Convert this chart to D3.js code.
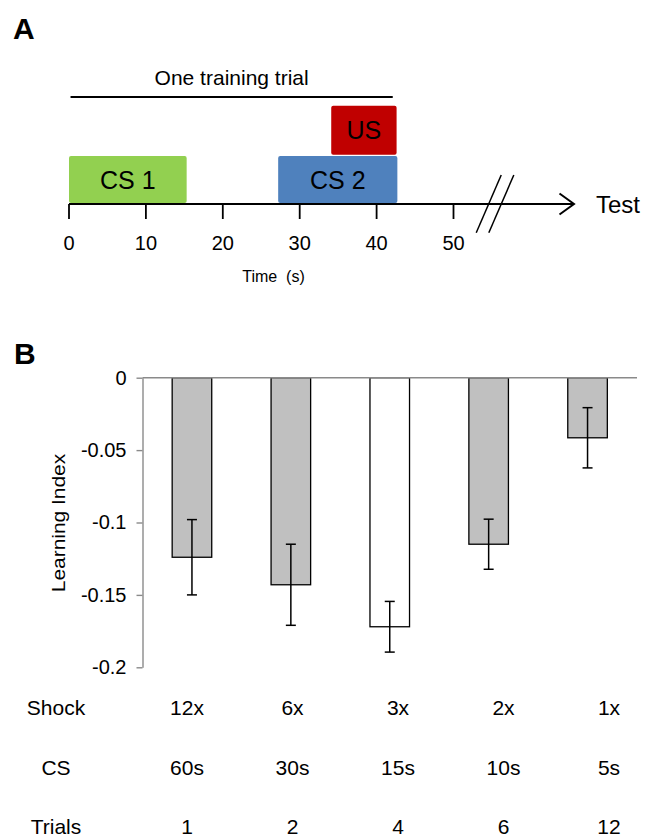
<!DOCTYPE html>
<html>
<head>
<meta charset="utf-8">
<script src="https://cdn.jsdelivr.net/npm/d3@7"></script>
<style>
  html, body { margin: 0; padding: 0; background: #fff; }
  svg { display: block; font-family: "Liberation Sans", Arial, sans-serif; }
</style>
</head>
<body>
<svg id="chart" width="645" height="837"></svg>
<script>
// ---------------- Data ----------------
// Panel A: timeline of one training trial (seconds)
const timeTicks = [0, 10, 20, 30, 40, 50];
const stimNames = ["CS 1", "CS 2", "US"];
const stimStart = [0, 27.2, 34.1];
const stimEnd   = [15.3, 42.7, 42.6];
const stimRow   = [0, 0, 1];           // 0 = on the axis, 1 = stacked above
const trialSpan = [0.2, 42.1];
const breakAt = 55.4;

// Panel B: learning index per condition
const shockLabels  = ["12x", "6x", "3x", "2x", "1x"];
const csLabels     = ["60s", "30s", "15s", "10s", "5s"];
const trialLabels  = ["1", "2", "4", "6", "12"];
const learningIdx  = [-0.124, -0.143, -0.172, -0.115, -0.0415];
const learningSem  = [0.026, 0.028, 0.0175, 0.0173, 0.0208];
const yTickValues  = [0, -0.05, -0.1, -0.15, -0.2];
const yTickLabels  = ["0", "-0.05", "-0.1", "-0.15", "-0.2"];
const rowNames     = ["Shock", "CS", "Trials"];
const highlighted  = "3x";

// ---------------- Drawing ----------------
const svg = d3.select("#chart");
const black = "#000";

// ===== Panel A =====
svg.append("text").attr("x", 13).attr("y", 39)
  .attr("font-size", 30).attr("font-weight", "bold").text("A");

const xT = d3.scaleLinear().domain([0, 50]).range([69, 453.5]);
const axisY = 204;
const gA = svg.append("g");

// stimulus boxes
const stimColors = ["#92D050", "#4F81BD", "#C00000"];
const rowTop = [156, 105.7], rowH = [47, 49];
stimNames.forEach((name, i) => {
  const x0 = xT(stimStart[i]), x1 = xT(stimEnd[i]);
  const r = stimRow[i];
  gA.append("rect")
    .attr("x", x0).attr("y", rowTop[r])
    .attr("width", x1 - x0).attr("height", rowH[r])
    .attr("rx", 2).attr("fill", stimColors[i]);
  gA.append("text")
    .attr("x", (x0 + x1) / 2).attr("y", rowTop[r] + rowH[r] / 2 + 9)
    .attr("text-anchor", "middle").attr("font-size", 25).attr("fill", black)
    .text(name);
});

// axis line with arrow
const arrowTip = 574;
gA.append("line").attr("x1", xT(0)).attr("x2", arrowTip)
  .attr("y1", axisY).attr("y2", axisY)
  .attr("stroke", black).attr("stroke-width", 2);
gA.append("path")
  .attr("d", `M${arrowTip - 14.5},${axisY - 10.5}L${arrowTip},${axisY}L${arrowTip - 14.5},${axisY + 10.5}`)
  .attr("fill", "none").attr("stroke", black).attr("stroke-width", 2);

// ticks + labels
gA.selectAll(".tick").data(timeTicks).enter().append("line")
  .attr("x1", d => xT(d)).attr("x2", d => xT(d))
  .attr("y1", axisY).attr("y2", axisY + 15)
  .attr("stroke", black).attr("stroke-width", 1.8);
gA.selectAll(".tlab").data(timeTicks).enter().append("text")
  .attr("x", d => xT(d)).attr("y", 249.5)
  .attr("text-anchor", "middle").attr("font-size", 20).text(d => d);

// axis break
const bx = xT(breakAt);
[-6.3, 6.3].forEach(o => {
  gA.append("line")
    .attr("x1", bx + o - 12.5).attr("y1", 232.7)
    .attr("x2", bx + o + 12.5).attr("y2", 175)
    .attr("stroke", black).attr("stroke-width", 1.5);
});

gA.append("text").attr("x", 596).attr("y", 213.3)
  .attr("font-size", 24).text("Test");

// trial span
gA.append("line").attr("x1", xT(trialSpan[0])).attr("x2", xT(trialSpan[1]))
  .attr("y1", 97).attr("y2", 97).attr("stroke", black).attr("stroke-width", 2);
gA.append("text").attr("x", (xT(trialSpan[0]) + xT(trialSpan[1])) / 2).attr("y", 85)
  .attr("text-anchor", "middle").attr("font-size", 21).text("One training trial");

gA.append("text").attr("x", 273.5).attr("y", 281.5)
  .attr("text-anchor", "middle").attr("font-size", 16)
  .attr("xml:space", "preserve").style("white-space", "pre")
  .text("Time  (s)");

// ===== Panel B =====
svg.append("text").attr("x", 14).attr("y", 364)
  .attr("font-size", 30).attr("font-weight", "bold").text("B");

const x = d3.scaleBand().domain(shockLabels).range([142.5, 637])
  .paddingInner(0.6).paddingOuter(0.3);
const y = d3.scaleLinear().domain([-0.2, 0]).range([667.3, 377.7]);
const grey = "#8a8a8a";

const gB = svg.append("g");

// bars
gB.selectAll(".bar").data(learningIdx).enter().append("rect")
  .attr("x", (d, i) => x(shockLabels[i]))
  .attr("y", y(0))
  .attr("width", x.bandwidth())
  .attr("height", d => y(d) - y(0))
  .attr("fill", (d, i) => shockLabels[i] === highlighted ? "#ffffff" : "#c0c0c0")
  .attr("stroke", black).attr("stroke-width", 1.3);

// error bars
const cap = 5;
learningIdx.forEach((d, i) => {
  const cx = x(shockLabels[i]) + x.bandwidth() / 2;
  const top = y(d + learningSem[i]), bot = y(d - learningSem[i]);
  gB.append("line").attr("x1", cx).attr("x2", cx).attr("y1", top).attr("y2", bot)
    .attr("stroke", black).attr("stroke-width", 1.5);
  [top, bot].forEach(yy => gB.append("line")
    .attr("x1", cx - cap).attr("x2", cx + cap).attr("y1", yy).attr("y2", yy)
    .attr("stroke", black).attr("stroke-width", 1.5));
});

// zero line
gB.append("line").attr("x1", 142.5).attr("x2", 637)
  .attr("y1", y(0)).attr("y2", y(0))
  .attr("stroke", grey).attr("stroke-width", 1.6);

// y axis
const yAxis = d3.axisLeft(y).tickValues(yTickValues)
  .tickFormat((d, i) => yTickLabels[i]).tickSize(6).tickSizeOuter(0).tickPadding(10);
const gy = gB.append("g").attr("transform", "translate(142.5,0)").call(yAxis);
gy.select(".domain").attr("stroke", grey).attr("stroke-width", 1.4);
gy.selectAll(".tick line").attr("stroke", grey).attr("stroke-width", 1.4);
gy.selectAll(".tick text").attr("font-size", 20).attr("fill", black)
  .attr("font-family", "Liberation Sans, Arial, sans-serif");

// y label
gB.append("text")
  .attr("transform", "translate(65,523) rotate(-90) scale(1.1,1)")
  .attr("text-anchor", "middle").attr("font-size", 19).text("Learning Index");

// condition table
const xc = d3.scalePoint().domain(shockLabels).range([187, 609]);
const rows = [shockLabels, csLabels, trialLabels];
const rowBase = [715, 775, 834];
rows.forEach((vals, r) => {
  gB.append("text").attr("x", 56).attr("y", rowBase[r])
    .attr("text-anchor", "middle").attr("font-size", 21).text(rowNames[r]);
  gB.selectAll(".row" + r).data(vals).enter().append("text")
    .attr("x", (d, i) => xc(shockLabels[i])).attr("y", rowBase[r])
    .attr("text-anchor", "middle").attr("font-size", 21).text(d => d);
});
</script>
</body>
</html>
